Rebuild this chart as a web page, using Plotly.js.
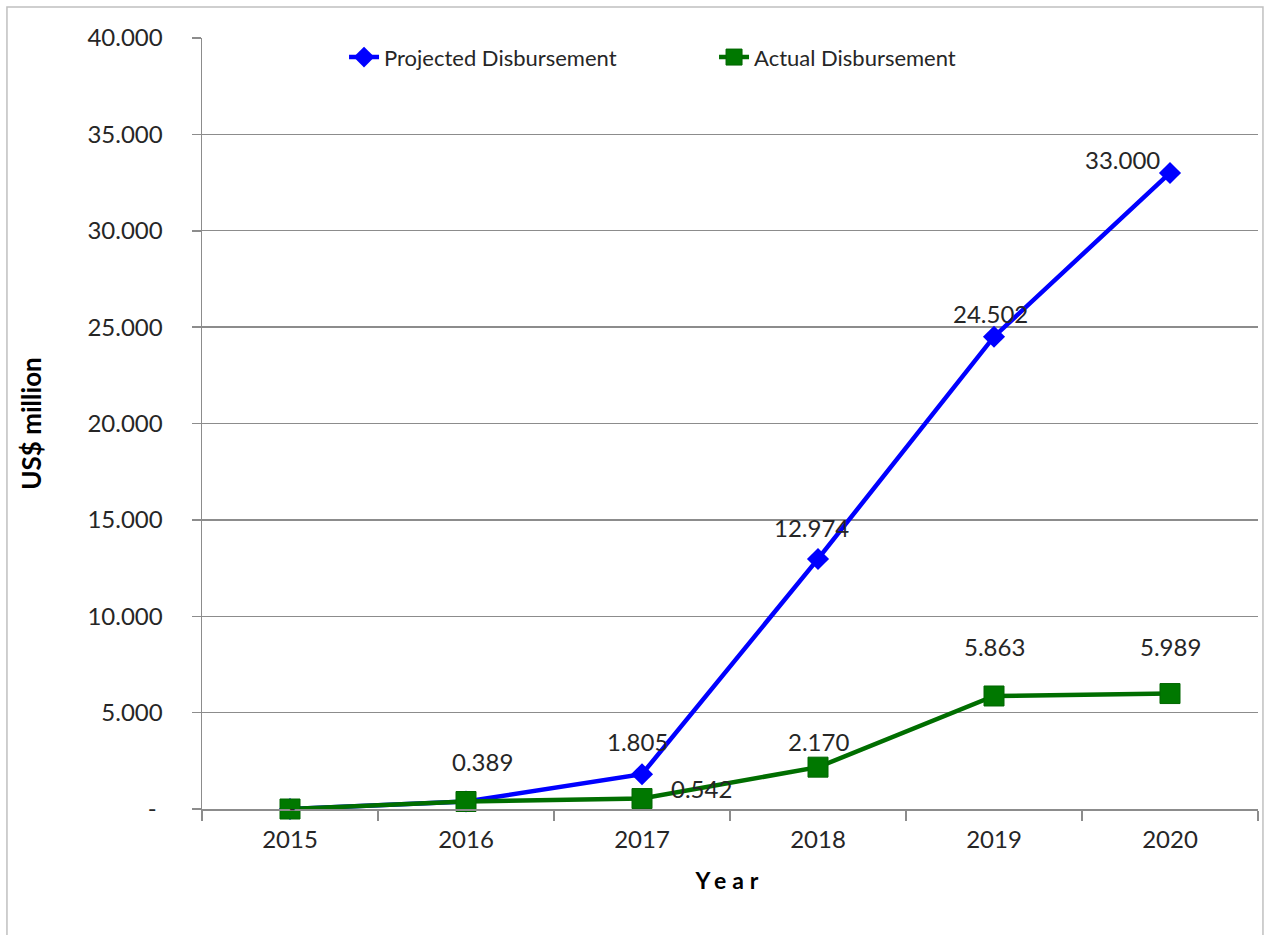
<!DOCTYPE html>
<html>
<head>
<meta charset="utf-8">
<script src="https://cdn.plot.ly/plotly-3.0.1.min.js"></script>
<style>
  body { margin: 0; padding: 0; background: #fff; }
  #chart { width: 1265px; height: 935px; }
  .xtitle { letter-spacing: 6px; }
</style>
</head>
<body>
<div id="chart"></div>
<script>
const years = ["2015", "2016", "2017", "2018", "2019", "2020"];
const projected = [0, 0.389, 1.805, 12.974, 24.502, 33.000];
const actual = [0, 0.389, 0.542, 2.170, 5.863, 5.989];
const yTickValues = [0, 5, 10, 15, 20, 25, 30, 35, 40];

function fmt(v) { return v === 0 ? "-" : v.toFixed(3); }

// which points carry a visible label and where (pixel offsets only)
const projLabelOffsets = [null, [16, 40], [-5, 33], [-7, 31], [-4, 23], [-48, 13]];
const actLabelOffsets = [[2, 1], null, [59, 10], [0, 26], [0, 49], [0, 47]];

const labelFont = { family: "Lato, 'Open Sans', sans-serif", size: 24, color: "#262626" };
const annotations = [];
years.forEach((yr, i) => {
  const p = projLabelOffsets[i];
  if (p) annotations.push({ x: i, y: projected[i], xref: "x", yref: "y", text: fmt(projected[i]),
    showarrow: false, xshift: p[0], yshift: p[1], font: labelFont });
  const a = actLabelOffsets[i];
  if (a) annotations.push({ x: i, y: actual[i], xref: "x", yref: "y", text: fmt(actual[i]),
    showarrow: false, xshift: a[0], yshift: a[1],
    font: i === 0 ? Object.assign({}, labelFont, { size: 18 }) : labelFont });
});

const traces = [
  { x: years, y: projected, name: "Projected Disbursement", type: "scatter", mode: "lines+markers",
    cliponaxis: false,
    line: { color: "#0000FF", width: 4.5 },
    marker: { symbol: "diamond", size: 17, color: "#0000FF" } },
  { x: years, y: actual, name: "Actual Disbursement", type: "scatter", mode: "lines+markers",
    cliponaxis: false,
    line: { color: "#006E00", width: 4.5 },
    marker: { symbol: "square", size: 20, color: "#007800", line: { color: "#006600", width: 1 } } }
];

const layout = {
  width: 1265, height: 935,
  margin: { l: 202, r: 7, t: 38, b: 126, pad: 0 },
  paper_bgcolor: "#fff", plot_bgcolor: "#fff",
  font: { family: "Lato, 'Open Sans', sans-serif", color: "#262626" },
  showlegend: true,
  legend: {
    orientation: "h", x: 0.1345, xanchor: "left", y: 0.975, yanchor: "middle",
    font: { family: "Lato, 'Open Sans', sans-serif", size: 22, color: "#262626" },
    bgcolor: "rgba(0,0,0,0)", entrywidth: 325, entrywidthmode: "pixels", traceorder: "normal"
  },
  xaxis: {
    type: "category", range: [-0.5, 5.5], tickson: "boundaries",
    ticks: "outside", ticklen: 10, tickcolor: "#8c8c8c", tickwidth: 1.5,
    showline: true, linecolor: "#8c8c8c", linewidth: 1.5, showgrid: false, zeroline: false,
    tickfont: { size: 24, color: "#262626" }, ticklabelstandoff: 9,
    title: { text: "Year", font: { size: 23, color: "#000", weight: "bold" }, standoff: 20 }
  },
  yaxis: {
    range: [0, 40], tickvals: yTickValues,
    ticktext: yTickValues.map(v => v === 0 ? "-\u00a0" : v.toFixed(3)),
    ticks: "outside", ticklen: 9, tickcolor: "#8c8c8c", tickwidth: 1.5,
    showline: true, linecolor: "#8c8c8c", linewidth: 1.5,
    showgrid: true, gridcolor: "#8c8c8c", gridwidth: 1.3, zeroline: false,
    tickfont: { size: 24, color: "#262626" }, ticklabelstandoff: 24,
    title: { text: "US$ million", font: { size: 26, color: "#000", weight: "bold" }, standoff: 38 }
  },
  shapes: [
    { type: "rect", xref: "paper", yref: "paper",
      x0: -0.1847, x1: 1.0047, y0: -0.2, y1: 1.0402,
      line: { color: "#c0c0c0", width: 1.5 }, fillcolor: "rgba(0,0,0,0)", layer: "below" }
  ],
  annotations: annotations
};

Plotly.newPlot("chart", traces, layout, { displayModeBar: false, staticPlot: true });
</script>
</body>
</html>
